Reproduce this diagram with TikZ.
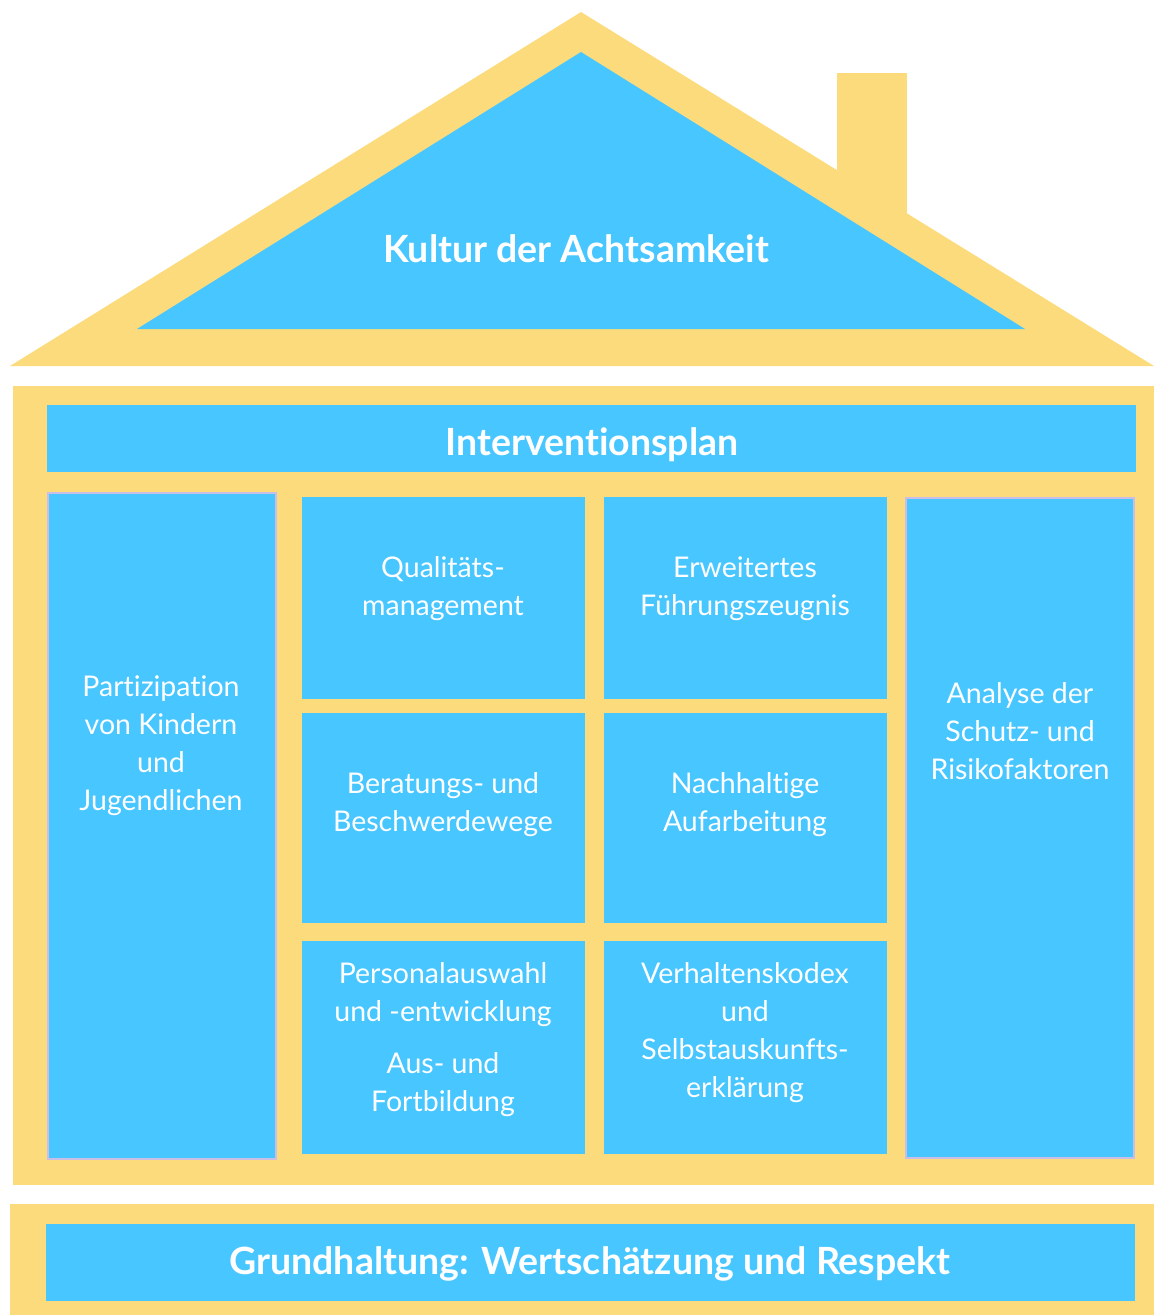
\documentclass[tikz,border=0pt]{standalone}
\usepackage{fontspec}
\setmainfont{Lato}[Ligatures={NoCommon}]
\definecolor{straw}{HTML}{FBDB7B}
\definecolor{sky}{HTML}{48C6FF}
\definecolor{rim}{HTML}{C9BEE6}
\begin{document}
\begin{tikzpicture}[x=1pt,y=-1pt,
  wall/.style={fill=straw, draw=none},
  panel/.style={fill=sky, draw=none},
  pillar/.style={fill=sky, draw=rim, line width=1.2pt},
  label/.style={text=white, inner sep=0pt, align=center,
    font=\fontsize{28.5}{38}\selectfont},
  title/.style={text=white, inner sep=0pt,
    font=\fontsize{37.5}{40}\selectfont\bfseries}]
\useasboundingbox (0,0) rectangle (1154,1315);

% roof and chimney
\fill[wall] (837,73) rectangle (907,215);
\fill[wall] (10,366) -- (581,12) -- (1154,366) -- cycle;
\fill[panel] (137,329) -- (581,52) -- (1025,329) -- cycle;
\node[title] (kultur) at (576,249) {Kultur der Achtsamkeit};

% house body
\fill[wall] (13,386) rectangle (1154,1185);
\fill[panel] (47,405) rectangle (1136,472);
\node[title] (plan) at (592,445) {Interventionsplan};

% side pillars
\filldraw[pillar] (48,493) rectangle (276,1159);
\filldraw[pillar] (906,498) rectangle (1134,1158);
\node[label] (partizipation) at (161,746)
  {Partizipation\\von Kindern\\und\\Jugendlichen};
\node[label] (analyse) at (1020,731)
  {Analyse der\\Schutz- und\\Risikofaktoren};

% inner grid of building blocks
\fill[panel] (302,497) rectangle (585,699);
\fill[panel] (604,497) rectangle (887,699);
\fill[panel] (302,713) rectangle (585,923);
\fill[panel] (604,713) rectangle (887,923);
\fill[panel] (302,941) rectangle (585,1154);
\fill[panel] (604,941) rectangle (887,1154);

\node[label] (qualitaet) at (443,589) {Qualitäts-\\management};
\node[label] (zeugnis) at (745,589) {Erweitertes\\Führungszeugnis};
\node[label] (beratung) at (443,805) {Beratungs- und\\Beschwerdewege};
\node[label] (aufarbeitung) at (745,805) {Nachhaltige\\Aufarbeitung};
\node[label] (personal) at (443,1040)
  {Personalauswahl\\und -entwicklung\\[14pt]Aus- und\\Fortbildung};
\node[label] (kodex) at (745,1033)
  {Verhaltenskodex\\und\\Selbstauskunfts-\\erklärung};

% foundation
\fill[wall] (10,1204) rectangle (1154,1315);
\fill[panel] (46,1224) rectangle (1135,1301);
\node[title] (grund) at (590,1264) {Grundhaltung: Wertschätzung und Respekt};
\end{tikzpicture}
\end{document}
